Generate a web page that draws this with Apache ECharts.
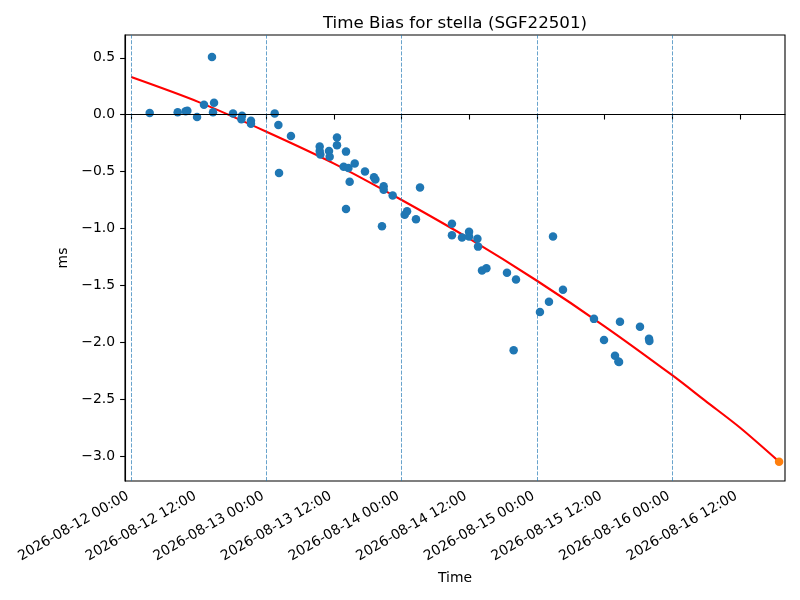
<!DOCTYPE html>
<html>
<head>
<meta charset="utf-8">
<script src="https://cdn.jsdelivr.net/npm/echarts@6/dist/echarts.min.js"></script>
<style>
  html, body { margin: 0; padding: 0; background: #fff; }
  #chart { width: 800px; height: 600px; }
</style>
</head>
<body>
<div id="chart"></div>
<script>
// measured time bias, [time (UTC), ms]
const biasPoints = [
  ['2026-08-12 03:17', 0.015], ['2026-08-12 08:15', 0.02], ['2026-08-12 09:58', 0.035],
  ['2026-08-12 09:40', 0.03], ['2026-08-12 11:41', -0.02], ['2026-08-12 12:55', 0.088],
  ['2026-08-12 14:20', 0.507], ['2026-08-12 14:42', 0.105], ['2026-08-12 14:31', 0.02],
  ['2026-08-12 18:04', 0.009], ['2026-08-12 19:40', -0.01], ['2026-08-12 19:33', -0.04],
  ['2026-08-12 21:15', -0.053], ['2026-08-12 21:15', -0.08],
  ['2026-08-13 01:28', 0.009], ['2026-08-13 02:07', -0.09], ['2026-08-13 02:14', -0.513],
  ['2026-08-13 04:21', -0.187], ['2026-08-13 09:27', -0.28], ['2026-08-13 09:27', -0.32],
  ['2026-08-13 09:34', -0.35], ['2026-08-13 11:06', -0.32], ['2026-08-13 11:13', -0.37],
  ['2026-08-13 12:31', -0.20], ['2026-08-13 12:31', -0.27], ['2026-08-13 14:07', -0.325],
  ['2026-08-13 14:07', -0.83], ['2026-08-13 13:42', -0.457], ['2026-08-13 14:33', -0.47],
  ['2026-08-13 15:40', -0.43], ['2026-08-13 14:46', -0.59], ['2026-08-13 17:29', -0.50],
  ['2026-08-13 19:05', -0.55], ['2026-08-13 19:20', -0.57], ['2026-08-13 20:48', -0.63],
  ['2026-08-13 20:48', -0.66], ['2026-08-13 22:24', -0.71], ['2026-08-13 20:30', -0.98],
  ['2026-08-14 00:32', -0.88], ['2026-08-14 00:57', -0.85], ['2026-08-14 02:32', -0.92],
  ['2026-08-14 03:15', -0.64], ['2026-08-14 08:55', -0.96], ['2026-08-14 08:55', -1.06],
  ['2026-08-14 10:42', -1.08], ['2026-08-14 11:57', -1.03], ['2026-08-14 11:57', -1.07],
  ['2026-08-14 13:26', -1.09], ['2026-08-14 13:33', -1.16], ['2026-08-14 14:15', -1.37],
  ['2026-08-14 15:02', -1.35], ['2026-08-14 18:41', -1.39], ['2026-08-14 20:17', -1.45],
  ['2026-08-14 19:52', -2.07],
  ['2026-08-15 02:51', -1.07], ['2026-08-15 04:37', -1.54], ['2026-08-15 02:08', -1.645],
  ['2026-08-15 00:32', -1.735], ['2026-08-15 10:07', -1.795], ['2026-08-15 11:54', -1.98],
  ['2026-08-15 14:44', -1.82], ['2026-08-15 18:17', -1.865], ['2026-08-15 19:53', -1.97],
  ['2026-08-15 19:57', -1.99], ['2026-08-15 13:51', -2.12], ['2026-08-15 14:27', -2.17],
  ['2026-08-15 14:34', -2.175]
];

// fitted trend
const fitPoints = [
  ['2026-08-12 00:00', 0.33], ['2026-08-12 12:00', 0.11], ['2026-08-13 00:00', -0.15],
  ['2026-08-13 12:00', -0.43], ['2026-08-14 00:00', -0.75], ['2026-08-14 12:00', -1.09],
  ['2026-08-15 00:00', -1.46], ['2026-08-15 12:00', -1.86], ['2026-08-16 00:00', -2.29],
  ['2026-08-16 06:00', -2.52], ['2026-08-16 12:00', -2.75], ['2026-08-16 18:58', -3.05]
];

// predicted value at the end of the fit
const predictPoints = [['2026-08-16 18:58', -3.05]];

const dayLines = ['2026-08-12 00:00', '2026-08-13 00:00', '2026-08-14 00:00',
  '2026-08-15 00:00', '2026-08-16 00:00'];

const xTicks = ['2026-08-12 00:00', '2026-08-12 12:00', '2026-08-13 00:00',
  '2026-08-13 12:00', '2026-08-14 00:00', '2026-08-14 12:00', '2026-08-15 00:00',
  '2026-08-15 12:00', '2026-08-16 00:00', '2026-08-16 12:00'];

const yTicks = [-3.0, -2.5, -2.0, -1.5, -1.0, -0.5, 0.0, 0.5];

const xRange = ['2026-08-11 22:54', '2026-08-16 20:01'];
const yRange = [-3.22, 0.70];

function ts (s) {
  const [d, t] = s.split(' ');
  const [y, m, day] = d.split('-').map(Number);
  const [h, min] = t.split(':').map(Number);
  return Date.UTC(y, m - 1, day, h, min);
}

function pad (n) {
  return String(n).padStart(2, '0');
}

function fmtTime (v) {
  const d = new Date(v);
  return d.getUTCFullYear() + '-' + pad(d.getUTCMonth() + 1) + '-' + pad(d.getUTCDate()) +
    ' ' + pad(d.getUTCHours()) + ':' + pad(d.getUTCMinutes());
}

const toXY = (p) => [ts(p[0]), p[1]];
const font = 'DejaVu Sans';

const chart = echarts.init(document.getElementById('chart'), null, { renderer: 'canvas' });

chart.setOption({
  animation: false,
  backgroundColor: '#fff',
  textStyle: { fontFamily: font },
  title: {
    text: 'Time Bias for stella (SGF22501)',
    left: 455,
    top: 15,
    textAlign: 'center',
    padding: 0,
    textStyle: { fontFamily: font, fontSize: 16.7, fontWeight: 'normal', color: '#000' }
  },
  grid: {
    left: 125,
    right: 15,
    top: 35,
    bottom: 119,
    show: true,
    borderColor: '#000',
    borderWidth: 1.1,
    backgroundColor: 'transparent'
  },
  xAxis: {
    type: 'value',
    min: ts(xRange[0]),
    max: ts(xRange[1]),
    name: 'Time',
    nameLocation: 'middle',
    nameGap: 90,
    nameTextStyle: { fontFamily: font, fontSize: 13.9, color: '#000' },
    axisLine: { show: true, lineStyle: { color: '#000', width: 1.1 } },
    axisTick: {
      show: true,
      length: 4.9,
      lineStyle: { color: '#000', width: 1.1 },
      customValues: xTicks.map(ts)
    },
    axisLabel: {
      customValues: xTicks.map(ts),
      rotate: 30,
      margin: 12,
      padding: [0, 4, 0, 0],
      fontFamily: font,
      fontSize: 13.9,
      color: '#000',
      formatter: fmtTime
    },
    splitLine: { show: false }
  },
  yAxis: {
    type: 'value',
    min: yRange[0],
    max: yRange[1],
    name: 'ms',
    nameLocation: 'middle',
    nameGap: 45,
    nameTextStyle: { fontFamily: font, fontSize: 13.9, color: '#000' },
    axisLine: { show: true, lineStyle: { color: '#000', width: 1.1 } },
    axisTick: {
      show: true,
      length: 4.9,
      lineStyle: { color: '#000', width: 1.1 },
      customValues: yTicks
    },
    axisLabel: {
      customValues: yTicks,
      margin: 10,
      fontFamily: font,
      fontSize: 13.9,
      color: '#000',
      formatter: (v) => v.toFixed(1).replace('-', '\u2212')
    },
    splitLine: { show: false }
  },
  series: [
    {
      name: 'guides',
      type: 'line',
      data: [],
      z: 1,
      markLine: {
        silent: true,
        symbol: 'none',
        label: { show: false },
        data: dayLines.map((d) => ({
          xAxis: ts(d),
          lineStyle: { color: '#1f77b4', type: [4, 1.6], width: 0.8, opacity: 0.85 }
        })).concat([{
          yAxis: 0,
          lineStyle: { color: '#000', type: 'solid', width: 1.1 }
        }])
      }
    },
    {
      name: 'fit',
      type: 'line',
      data: fitPoints.map(toXY),
      showSymbol: false,
      symbol: 'none',
      smooth: 0.3,
      z: 2,
      lineStyle: { color: '#ff0000', width: 2.1 }
    },
    {
      name: 'bias',
      type: 'scatter',
      data: biasPoints.map(toXY),
      symbolSize: 8.5,
      z: 3,
      itemStyle: { color: '#1f77b4', opacity: 1 }
    },
    {
      name: 'predict',
      type: 'scatter',
      data: predictPoints.map(toXY),
      symbolSize: 8.5,
      z: 4,
      itemStyle: { color: '#ff7f0e', opacity: 1 }
    }
  ]
});
</script>
</body>
</html>
